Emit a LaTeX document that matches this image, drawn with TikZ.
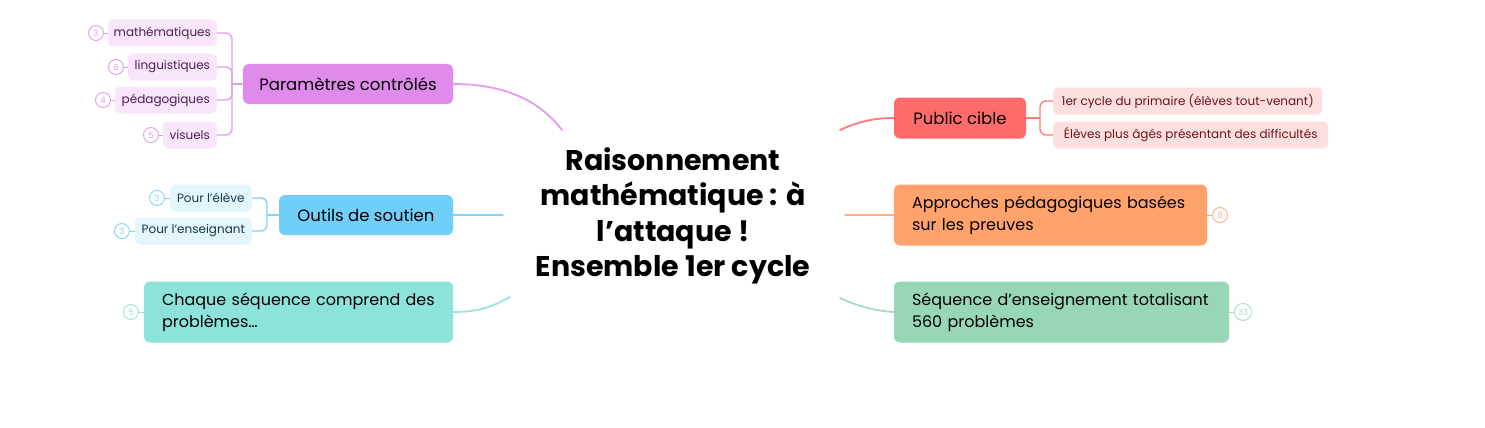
\documentclass[tikz,border=0pt]{standalone}
\usepackage{fontspec}
\setmainfont{Poppins}
\usetikzlibrary{calc}
\definecolor{violetM}{HTML}{E08AEB}
\definecolor{violetL}{HTML}{E59BEE}
\definecolor{violetC}{HTML}{FAE6FC}
\definecolor{violetT}{HTML}{4A1F52}
\definecolor{blueM}{HTML}{6FCFF8}
\definecolor{blueL}{HTML}{7FD5F8}
\definecolor{blueC}{HTML}{E3F5FD}
\definecolor{blueT}{HTML}{123A4D}
\definecolor{tealM}{HTML}{8CE3D9}
\definecolor{tealL}{HTML}{9AE6DD}
\definecolor{redM}{HTML}{FF6B6B}
\definecolor{redL}{HTML}{FF7A7A}
\definecolor{redC}{HTML}{FDDFDF}
\definecolor{redT}{HTML}{6B1515}
\definecolor{orM}{HTML}{FFA26B}
\definecolor{orL}{HTML}{FFAE80}
\definecolor{grM}{HTML}{98D6B8}
\definecolor{grL}{HTML}{A6DCC2}
\tikzset{
  mainbox/.style={rounded corners=6pt, inner sep=0pt, text=black,
    font=\fontsize{16.5}{22}\selectfont},
  twoline/.style={mainbox, align=left, inner xsep=18pt, minimum height=61pt,
    font=\fontsize{16}{22}\selectfont},
  childbox/.style={rounded corners=5pt, inner sep=0pt, minimum height=27pt,
    font=\fontsize{12}{15}\selectfont, anchor=east},
  countc/.style={circle, draw, line width=0.9pt, inner sep=0pt, minimum size=15pt,
    font=\fontsize{8.5}{9}\selectfont},
  branch/.style={line width=1.8pt, line cap=round},
  twig/.style={line width=1.4pt},
}
\begin{document}
\begin{tikzpicture}[x=1pt,y=-1pt]
\useasboundingbox[fill=white] (0,0) rectangle (1485,428);

% central title
\node[font=\bfseries\fontsize{28.5}{35.5}\selectfont, align=center] (title) at (673,216)
  {Raisonnement\\mathématique : à\\l’attaque !\\Ensemble 1er cycle};

% ---------- Paramètres contrôlés ----------
\node[mainbox, fill=violetM, minimum width=210pt, minimum height=40pt] (par) at (348,84) {Paramètres contrôlés};
\node[childbox, fill=violetC, text=violetT, minimum width=109pt] (p1) at (217,33) {mathématiques};
\node[childbox, fill=violetC, text=violetT, minimum width=89pt] (p2) at (217,67) {linguistiques};
\node[childbox, fill=violetC, text=violetT, minimum width=102pt] (p3) at (217,100) {pédagogiques};
\node[childbox, fill=violetC, text=violetT, minimum width=54pt] (p4) at (217,135) {visuels};
\coordinate (pj) at (232,84);
\draw[twig, violetL] (par.west) -- (pj);
\foreach \c in {p1,p2,p3,p4} \draw[twig, violetL, rounded corners=6pt] (pj) |- (\c.east);
\node[countc, draw=violetL, text=violetL] (pc1) at (96,33) {3};
\node[countc, draw=violetL, text=violetL] (pc2) at (116,67) {6};
\node[countc, draw=violetL, text=violetL] (pc3) at (103,100) {4};
\node[countc, draw=violetL, text=violetL] (pc4) at (151,135) {5};
\draw[violetL, line width=0.9pt] (pc1) -- (p1.west);
\draw[violetL, line width=0.9pt] (pc2) -- (p2.west);
\draw[violetL, line width=0.9pt] (pc3) -- (p3.west);
\draw[violetL, line width=0.9pt] (pc4) -- (p4.west);
\coordinate (e1) at (562,130);
\draw[branch, violetL] (par.east) .. controls (515,84) and (545,108) .. (e1);

% ---------- Outils de soutien ----------
\node[mainbox, fill=blueM, minimum width=174pt, minimum height=40pt] (out) at (366,215) {Outils de soutien};
\node[childbox, fill=blueC, text=blueT, minimum width=82pt] (o1) at (252,198) {Pour l'élève};
\node[childbox, fill=blueC, text=blueT, minimum width=117pt] (o2) at (252,231) {Pour l'enseignant};
\coordinate (oj) at (267,215);
\draw[twig, blueL] (out.west) -- (oj);
\foreach \c in {o1,o2} \draw[twig, blueL, rounded corners=6pt] (oj) |- (\c.east);
\node[countc, draw=blueL, text=blueL] (oc1) at (157,198) {3};
\node[countc, draw=blueL, text=blueL] (oc2) at (122,231) {3};
\draw[blueL, line width=0.9pt] (oc1) -- (o1.west);
\draw[blueL, line width=0.9pt] (oc2) -- (o2.west);
\coordinate (e2) at (503,215);
\draw[branch, blueL] (out.east) -- (e2);

% ---------- Chaque séquence ----------
\node[twoline, fill=tealM, text width=273pt] (chq) at (298.5,312) {\mbox{Chaque séquence comprend des}\\\mbox{problèmes…}};
\node[countc, draw=tealL, text=tealL] (cc) at (131,312) {5};
\draw[tealL, line width=0.9pt] (cc) -- (chq.west);
\coordinate (e3) at (510,297);
\draw[branch, tealL] (chq.east) .. controls (485,312) and (498,303) .. (e3);

% ---------- Public cible ----------
\node[mainbox, fill=redM, minimum width=132pt, minimum height=41pt] (pub) at (960,118) {Public cible};
\node[childbox, fill=redC, text=redT, minimum width=269pt, anchor=west] (r1) at (1053,101) {1er cycle du primaire (élèves tout-venant)};
\node[childbox, fill=redC, text=redT, minimum width=275pt, anchor=west] (r2) at (1053,135) {Élèves plus âgés présentant des difficultés};
\coordinate (rj) at (1040,118);
\draw[twig, redL] (pub.east) -- (rj);
\foreach \c in {r1,r2} \draw[twig, redL, rounded corners=6pt] (rj) |- (\c.west);
\coordinate (w1) at (840,130);
\draw[branch, redL] (w1) .. controls (860,121) and (875,118) .. (pub.west);

% ---------- Approches ----------
\node[twoline, fill=orM, text width=277pt] (app) at (1050.5,215) {\mbox{Approches pédagogiques basées}\\\mbox{sur les preuves}};
\node[countc, draw=orL, text=orL] (ac) at (1220,215) {6};
\draw[orL, line width=0.9pt] (app.east) -- (ac);
\coordinate (w2) at (845,215);
\draw[branch, orL] (w2) -- (app.west);

% ---------- Séquence ----------
\node[twoline, fill=grM, text width=299pt] (seq) at (1061.5,312) {\mbox{Séquence d’enseignement totalisant}\\\mbox{560 problèmes}};
\node[countc, draw=grL, text=grL, minimum size=17pt] (sc) at (1243,312) {33};
\draw[grL, line width=0.9pt] (seq.east) -- (sc);
\coordinate (w3) at (840,298);
\draw[branch, grL] (w3) .. controls (862,308) and (878,311) .. (seq.west);
\end{tikzpicture}
\end{document}
